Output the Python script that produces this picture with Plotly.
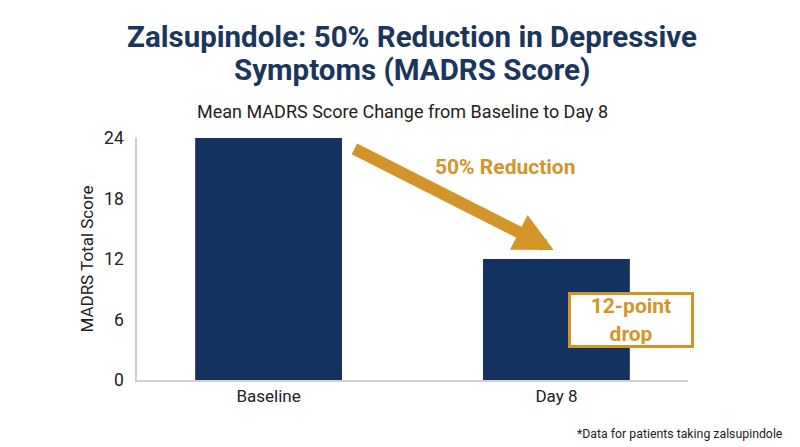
import plotly.graph_objects as go

categories = ["Baseline", "Day 8"]
scores = [24, 12]
y_ticks = [0, 6, 12, 18, 24]

NAVY = "#13325F"
GOLD = "#D39529"
TITLE = "#1B365D"
FONT = "Roboto"

ML, MR, MT, MB = 129, 120, 130, 75
W, H = 800, 447
PH = H - MT - MB
PW = W - ML - MR


def py(fy):
    return (H - MB - fy) / PH


def px(fx):
    return (fx - ML) / PW


fig = go.Figure()
fig.add_trace(go.Bar(x=[0, 1], y=scores, marker=dict(color=NAVY, line=dict(width=0)),
                     width=0.51, hoverinfo="skip"))

fig.update_layout(
    width=W, height=H,
    margin=dict(l=ML, r=MR, t=MT, b=MB),
    paper_bgcolor="white", plot_bgcolor="white",
    font=dict(family=FONT, color="#222222"),
    showlegend=False,
    xaxis=dict(range=[-0.457, 1.457], tickvals=[0, 1], ticktext=categories,
               showline=True, linecolor="#D0D0D0", linewidth=1.5, showgrid=False,
               zeroline=False, ticks="", tickfont=dict(size=17, color="#222222")),
    yaxis=dict(range=[0, 24], tickvals=y_ticks, showline=True, linecolor="#D0D0D0",
               linewidth=1.5, showgrid=False, zeroline=False, ticks="",
               ticklabelstandoff=8, tickfont=dict(size=17.5, color="#222222"),
               title=dict(text="MADRS Total Score", font=dict(size=17, color="#222222"),
                          standoff=6)),
)

fig.add_annotation(text="<b>Zalsupindole: 50% Reduction in Depressive</b>",
                   xref="paper", yref="paper", x=px(404), y=py(29), xanchor="center",
                   yanchor="middle", showarrow=False,
                   font=dict(size=29.5, color=TITLE, family=FONT))
fig.add_annotation(text="<b>Symptoms (MADRS Score)</b>",
                   xref="paper", yref="paper", x=px(404), y=py(62), xanchor="center",
                   yanchor="middle", showarrow=False,
                   font=dict(size=29.5, color=TITLE, family=FONT))

fig.add_annotation(text="Mean MADRS Score Change from Baseline to Day 8",
                   xref="paper", yref="paper", x=px(394), y=py(103), xanchor="center",
                   yanchor="middle", showarrow=False,
                   font=dict(size=18, color="#222222", family=FONT))

# Arrow
fig.add_annotation(x=0.99, y=12.9, ax=0.293, ay=23.0, xref="x", yref="y",
                   axref="x", ayref="y", text="", showarrow=True,
                   arrowhead=2, arrowsize=0.65, arrowwidth=12, arrowcolor=GOLD)

fig.add_annotation(text="<b>50% Reduction</b>", x=0.821, y=21.1, xref="x", yref="y",
                   showarrow=False, font=dict(size=21, color=GOLD, family=FONT))

fig.add_annotation(text="<b>12-point<br>drop</b>", x=1.26, y=6.0, xref="x", yref="y",
                   showarrow=False, font=dict(size=21, color=GOLD, family=FONT),
                   bgcolor="white", bordercolor=GOLD, borderwidth=3,
                   width=118, height=48, align="center")

fig.add_annotation(text="*Data for patients taking zalsupindole", xref="paper",
                   yref="paper", x=px(777), y=py(426), xanchor="right", yanchor="middle",
                   showarrow=False, font=dict(size=12.3, color="#222222", family=FONT))

fig.write_html("out.html")
